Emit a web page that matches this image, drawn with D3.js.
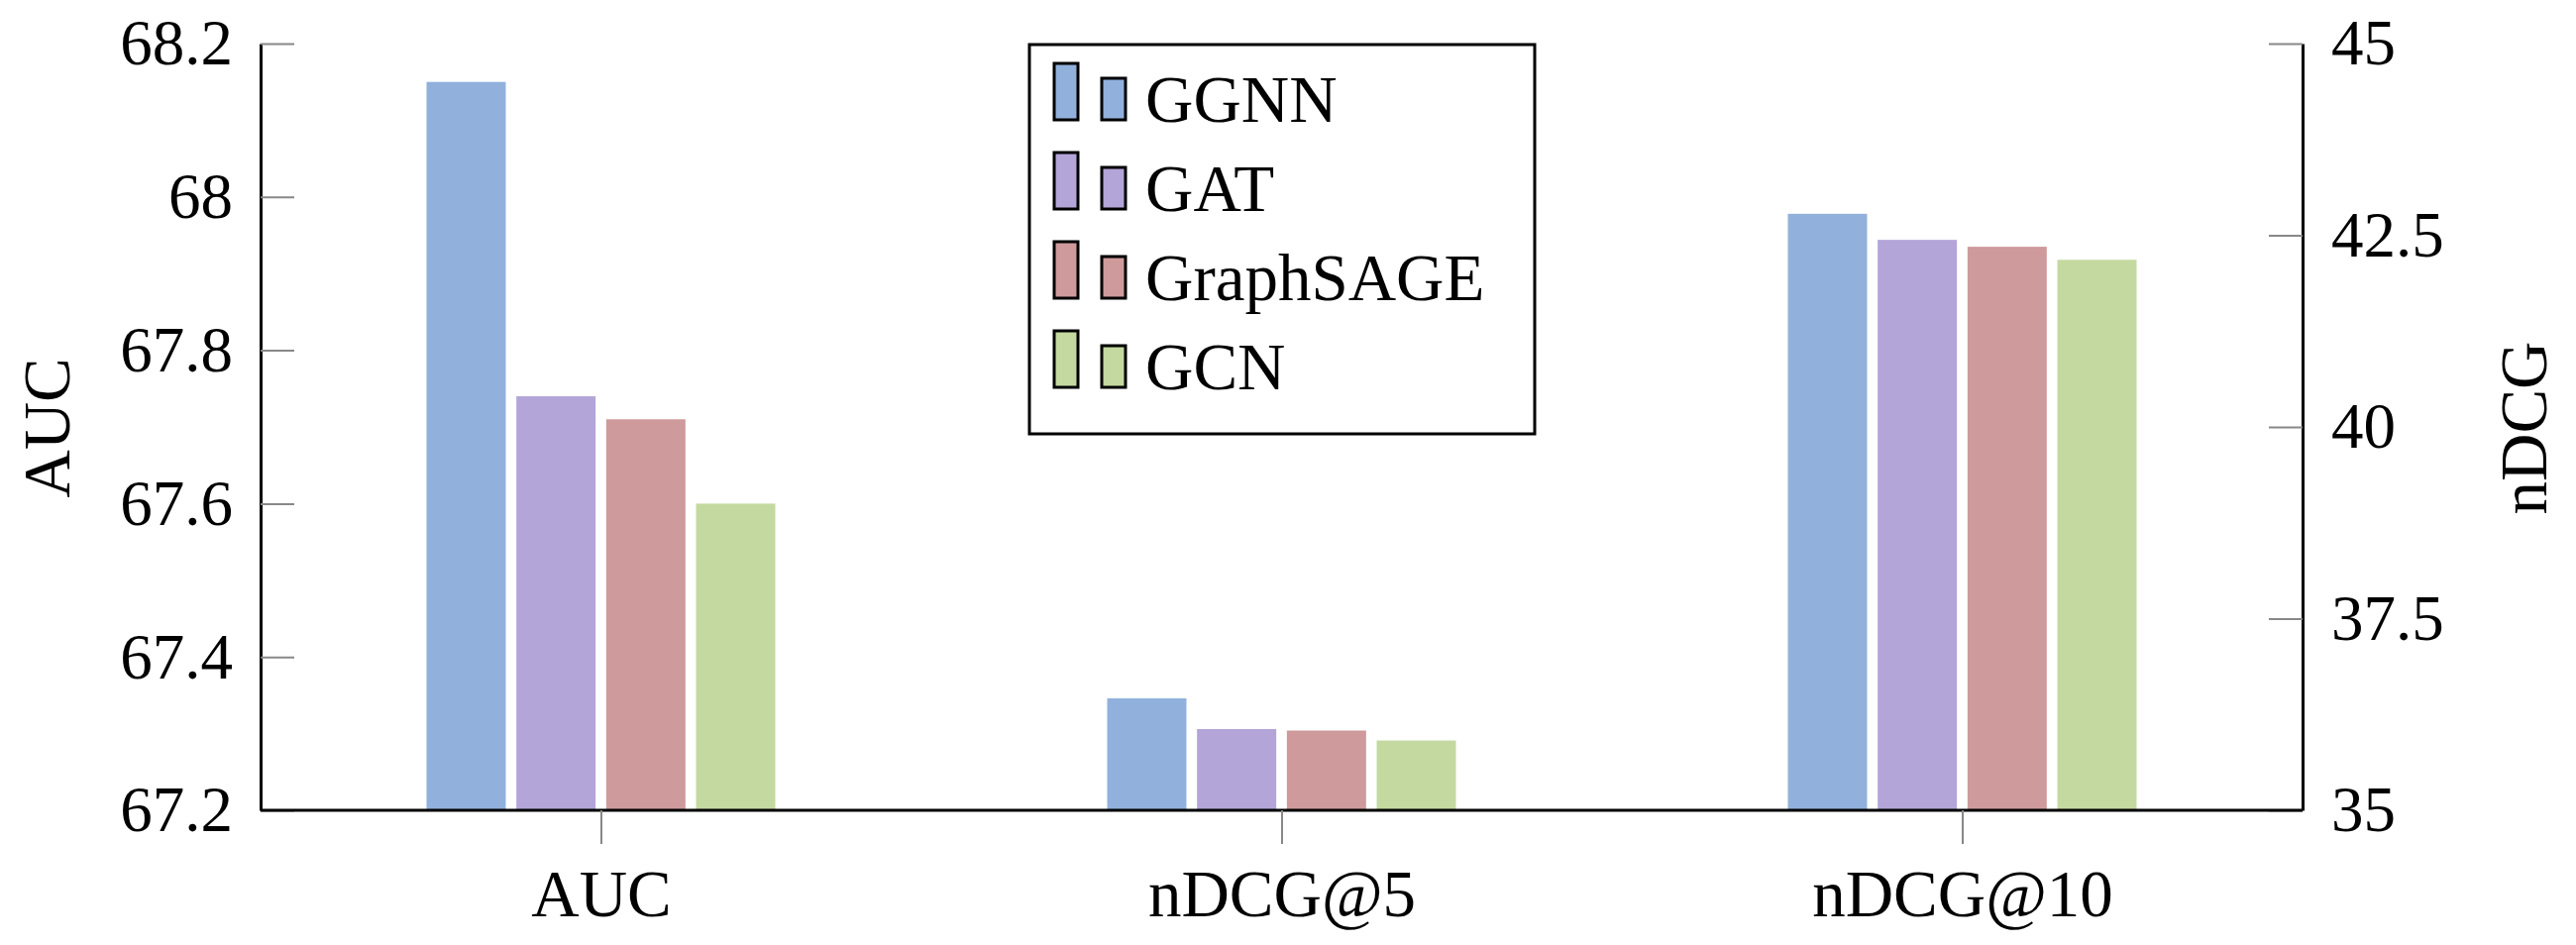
<!DOCTYPE html>
<html lang="en">
<head>
    <meta charset="UTF-8">
    <title>AUC / nDCG by GNN</title>
    <style>
        body { margin: 0; background: #fff; }
        svg { display: block; }
        text { font-family: "Liberation Serif", "Times New Roman", serif; fill: #000; }
        .domain { stroke: #000; stroke-width: 3px; }
        .tick line { stroke: #888; stroke-width: 2px; }
        .tick text { font-size: 65px; }
    </style>
</head>
<body>
    <svg width="2600" height="954"></svg>

    <script src="https://d3js.org/d3.v7.min.js"></script>
    <script>
        // data
        const categories = ["AUC", "nDCG@5", "nDCG@10"];
        const series = ["GGNN", "GAT", "GraphSAGE", "GCN"];
        const colors = ["#91b1dc", "#b3a5d8", "#cf9a9b", "#c4d9a0"];
        const ggnn = [68.15, 36.46, 42.78];
        const gat = [67.74, 36.06, 42.44];
        const graphsage = [67.71, 36.04, 42.35];
        const gcn = [67.60, 35.91, 42.18];
        const aucTicks = [67.2, 67.4, 67.6, 67.8, 68, 68.2];
        const ndcgTicks = [35, 37.5, 40, 42.5, 45];

        const values = [ggnn, gat, graphsage, gcn];

        const svg = d3.select("svg");
        const plotLeft = 263, plotRight = 2324, plotTop = 44, plotBottom = 818;

        const x = d3.scalePoint().domain(categories).range([plotLeft, plotRight]).padding(0.5);
        const inner = d3.scaleBand().domain(series).range([-176, 176]).paddingInner(0.118);
        const yAuc = d3.scaleLinear().domain([67.2, 68.2]).range([plotBottom, plotTop]);
        const yNdcg = d3.scaleLinear().domain([35, 45]).range([plotBottom, plotTop]);

        // bars
        const cells = [];
        categories.forEach((c, i) => {
            series.forEach((s, j) => cells.push({ cat: c, i: i, s: s, j: j, v: values[j][i] }));
        });

        svg.append("g").selectAll("rect")
            .data(cells)
            .enter().append("rect")
            .attr("x", d => x(d.cat) + inner(d.s))
            .attr("width", inner.bandwidth())
            .attr("y", d => (d.i === 0 ? yAuc : yNdcg)(d.v))
            .attr("height", d => {
                const y = d.i === 0 ? yAuc : yNdcg;
                return y.range()[0] - y(d.v);
            })
            .attr("fill", d => colors[d.j]);

        // axes
        svg.append("g")
            .attr("transform", `translate(${plotLeft},0)`)
            .call(d3.axisLeft(yAuc).tickValues(aucTicks).tickFormat(String)
                .tickSizeInner(-34).tickSizeOuter(0).tickPadding(28));

        svg.append("g")
            .attr("transform", `translate(${plotRight},0)`)
            .call(d3.axisRight(yNdcg).tickValues(ndcgTicks).tickFormat(String)
                .tickSizeInner(-34).tickSizeOuter(0).tickPadding(29));

        svg.append("g")
            .attr("transform", `translate(0,${plotBottom})`)
            .call(d3.axisBottom(x).tickSizeInner(34).tickSizeOuter(0).tickPadding(25))
            .call(g => g.selectAll(".tick text").style("font-size", "67px"))
            .call(g => g.select(".domain").attr("d", `M${plotLeft},0H${plotRight}`));

        svg.selectAll(".tick text").attr("font-family", null);
        svg.selectAll("g[font-family]").attr("font-family", null).attr("font-size", null);

        // axis titles
        svg.append("text")
            .attr("transform", "translate(70,432) rotate(-90)")
            .attr("text-anchor", "middle")
            .style("font-size", "67px")
            .text("AUC");

        svg.append("text")
            .attr("transform", "translate(2570,432) rotate(-90)")
            .attr("text-anchor", "middle")
            .style("font-size", "67px")
            .text("nDCG");

        // legend
        const legend = svg.append("g");
        legend.append("rect")
            .attr("x", 1039).attr("y", 45)
            .attr("width", 510).attr("height", 393)
            .attr("fill", "#fff").attr("stroke", "#000").attr("stroke-width", 3);

        const entry = legend.selectAll(".entry")
            .data(series)
            .enter().append("g")
            .attr("class", "entry")
            .attr("transform", (d, j) => `translate(0,${123 + j * 90})`);

        entry.append("rect")
            .attr("x", 1064).attr("y", -59)
            .attr("width", 24).attr("height", 57)
            .attr("fill", (d, j) => colors[j])
            .attr("stroke", "#000").attr("stroke-width", 3);

        entry.append("rect")
            .attr("x", 1112).attr("y", -44)
            .attr("width", 24).attr("height", 42)
            .attr("fill", (d, j) => colors[j])
            .attr("stroke", "#000").attr("stroke-width", 3);

        entry.append("text")
            .attr("x", 1156)
            .style("font-size", "67px")
            .text(d => d);
    </script>
</body>
</html>
